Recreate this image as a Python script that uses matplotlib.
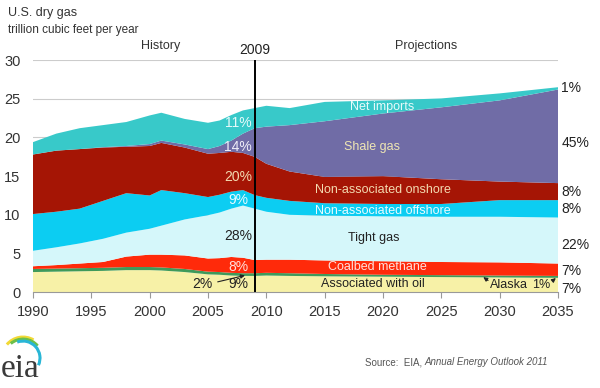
import matplotlib
matplotlib.use("Agg")
from matplotlib import pyplot as plt
from matplotlib.patches import Arc
import numpy as np

plt.rcParams['font.family'] = ['Liberation Sans', 'DejaVu Sans']

# trillion cubic feet per year
years = [1990, 1992, 1994, 1996, 1998, 2000, 2001, 2003, 2005, 2006, 2007, 2008,
         2009, 2010, 2012, 2015, 2020, 2025, 2030, 2035]
assoc_oil = [2.6, 2.65, 2.7, 2.75, 2.85, 2.85, 2.8, 2.6, 2.3, 2.25, 2.15, 2.1,
             2.1, 2.15, 2.1, 2.05, 2.0, 1.95, 1.9, 1.85]
alaska = [0.4, 0.4, 0.4, 0.4, 0.4, 0.4, 0.4, 0.4, 0.35, 0.35, 0.35, 0.35,
          0.35, 0.35, 0.35, 0.3, 0.25, 0.25, 0.25, 0.25]
coalbed = [0.35, 0.45, 0.6, 0.75, 1.35, 1.6, 1.65, 1.75, 1.7, 1.8, 2.05, 2.0,
           1.7, 1.7, 1.75, 1.75, 1.75, 1.7, 1.7, 1.6]
tight = [2.0, 2.3, 2.6, 3.0, 3.1, 3.35, 3.75, 4.65, 5.6, 5.9, 6.25, 6.75,
         6.65, 6.2, 5.8, 5.8, 5.8, 5.85, 5.9, 5.95]
offshore = [4.75, 4.6, 4.5, 4.9, 5.1, 4.3, 4.6, 3.4, 2.35, 2.3, 2.2, 2.0,
            1.75, 1.8, 1.8, 1.6, 1.6, 1.65, 2.15, 2.25]
onshore = [7.7, 7.9, 7.7, 6.9, 6.0, 6.4, 6.1, 5.9, 5.6, 5.4, 5.15, 4.8,
           4.95, 4.4, 3.8, 3.4, 3.6, 3.2, 2.4, 2.2]
shale = [0.0, 0.0, 0.0, 0.05, 0.1, 0.25, 0.3, 0.4, 0.6, 0.9, 1.45, 2.5,
         3.7, 4.8, 6.0, 7.2, 8.1, 9.3, 10.5, 12.1]
net_imports = [1.6, 2.2, 2.7, 2.85, 3.1, 3.7, 3.6, 3.3, 3.4, 3.3, 3.3, 3.0,
               2.6, 2.7, 2.2, 2.5, 1.7, 1.15, 0.9, 0.3]

colors = ['#f7f1a7', '#3f9a5a', '#ff2a0a', '#d5f7fa', '#0ccdf2', '#a51505', '#706ca6', '#38c9c9']

pct_2009 = ['11%', '14%', '20%', '9%', '28%', '8%', '9%']
pct_2035 = ['1%', '45%', '8%', '8%', '22%', '7%', '7%']

fig = plt.figure(figsize=(6, 3.88), dpi=100)
ax = fig.add_axes([0.055, 0.247, 0.875, 0.598])

for g in range(5, 31, 5):
    ax.axhline(g, color='#cccccc', lw=0.8, zorder=0)

ax.stackplot(years, assoc_oil, alaska, coalbed, tight, offshore, onshore, shale,
             net_imports, colors=colors, lw=0, zorder=1)

ax.axvline(2009, ymin=0, ymax=1, color='black', lw=1.4, zorder=3)

ax.set_xlim(1990, 2035)
ax.set_ylim(0, 30)
ax.set_xticks(range(1990, 2036, 5))
ax.set_yticks(range(0, 31, 5))
for s in ['left', 'right', 'top']:
    ax.spines[s].set_visible(False)
ax.spines['bottom'].set_color('#999999')
ax.tick_params(axis='x', colors='#999999', labelcolor='#333333', labelsize=10.5, length=4, pad=5)
ax.tick_params(axis='y', length=0, labelcolor='#333333', labelsize=10.5, pad=9)

# area labels
tk = dict(ha='center', va='center', fontsize=9, zorder=4)
ax.text(2019.9, 23.9, 'Net imports', color='#e6fafa', **tk)
ax.text(2019.1, 18.8, 'Shale gas', color='#efe6b4', **tk)
ax.text(2020.0, 13.2, 'Non-associated onshore', color='#f3d9b0', **tk)
ax.text(2020.0, 10.5, 'Non-associated offshore', color='#e8fbff', **tk)
ax.text(2019.2, 7.0, 'Tight gas', color='#222222', **tk)
ax.text(2019.5, 3.2, 'Coalbed methane', color='#ffe0dc', **tk)
ax.text(2019.1, 1.0, 'Associated with oil', color='#222222', **tk)
ax.text(2030.8, 0.95, 'Alaska', color='#222222', **tk)
ax.text(2033.6, 0.95, '1%', color='#222222', **tk)
ax.annotate('', xy=(2028.4, 2.15), xytext=(2029.2, 1.3),
            arrowprops=dict(arrowstyle='-|>', color='#222222', lw=0.8, mutation_scale=6), zorder=4)
ax.annotate('', xy=(2035.0, 2.05), xytext=(2034.4, 1.3),
            arrowprops=dict(arrowstyle='-|>', color='#222222', lw=0.8, mutation_scale=6), zorder=4)

# 2009 shares
hy = [21.9, 18.8, 14.9, 11.9, 7.2, 3.2, 1.0]
hc = ['#e6fafa', '#f0eef8', '#f3d9b0', '#e8fbff', '#222222', '#ffe0dc', '#222222']
for p, y, c in zip(pct_2009, hy, hc):
    ax.text(2007.6, y, p, color=c, fontsize=10, ha='center', va='center', zorder=4)
ax.text(2004.5, 1.0, '2%', color='#222222', fontsize=10, ha='center', va='center', zorder=4)
ax.annotate('', xy=(2008.4, 2.25), xytext=(2005.6, 1.25),
            arrowprops=dict(arrowstyle='-|>', color='#222222', lw=0.8, mutation_scale=6), zorder=4)

# 2035 shares
ry = [26.4, 19.3, 12.9, 10.7, 6.1, 2.7, 0.4]
for p, y in zip(pct_2035, ry):
    ax.text(2035.3, y, p, color='#222222', fontsize=10, ha='left', va='center', clip_on=False)

ax.text(2009, 30.4, '2009', ha='center', va='bottom', fontsize=10, color='#222222')
ax.text(2000.9, 31.0, 'History', ha='center', va='bottom', fontsize=9, color='#333333')
ax.text(2023.7, 31.0, 'Projections', ha='center', va='bottom', fontsize=9, color='#333333')

fig.text(0.013, 0.966, 'U.S. dry gas', fontsize=9, color='#333333', va='center')
fig.text(0.013, 0.923, 'trillion cubic feet per year', fontsize=8.5, color='#333333', va='center')

# source line, italic title placed right after the plain part
src = fig.text(0.608, 0.067, 'Source:  EIA, ', fontsize=7, color='#555555', va='center')
r = fig.canvas.get_renderer()
bb = src.get_window_extent(renderer=r)
fig.text(bb.x1 / fig.bbox.width, 0.067, 'Annual Energy Outlook 2011', fontsize=7,
         color='#555555', va='center', style='italic')

# eia logo (pixel-like coords: x right, y up from bottom edge)
lax = fig.add_axes([0.0, 0.0, 0.1, 0.175])
lax.set_xlim(0, 60)
lax.set_ylim(0, 68)
lax.axis('off')
lax.text(1, 11, 'eia', fontsize=24, family=['Liberation Serif', 'DejaVu Serif'],
         color='#3a3a3a', va='baseline', ha='left')
for rad, t1, t2, c in [(21, 60, 140, '#f2d935'), (19, 40, 130, '#6cbf4a'), (17, -25, 110, '#29b6d6')]:
    lax.add_patch(Arc((23, 30), 2 * rad, 2 * rad, theta1=t1, theta2=t2, color=c, lw=2.2))

fig.savefig('out.png', dpi=100)
